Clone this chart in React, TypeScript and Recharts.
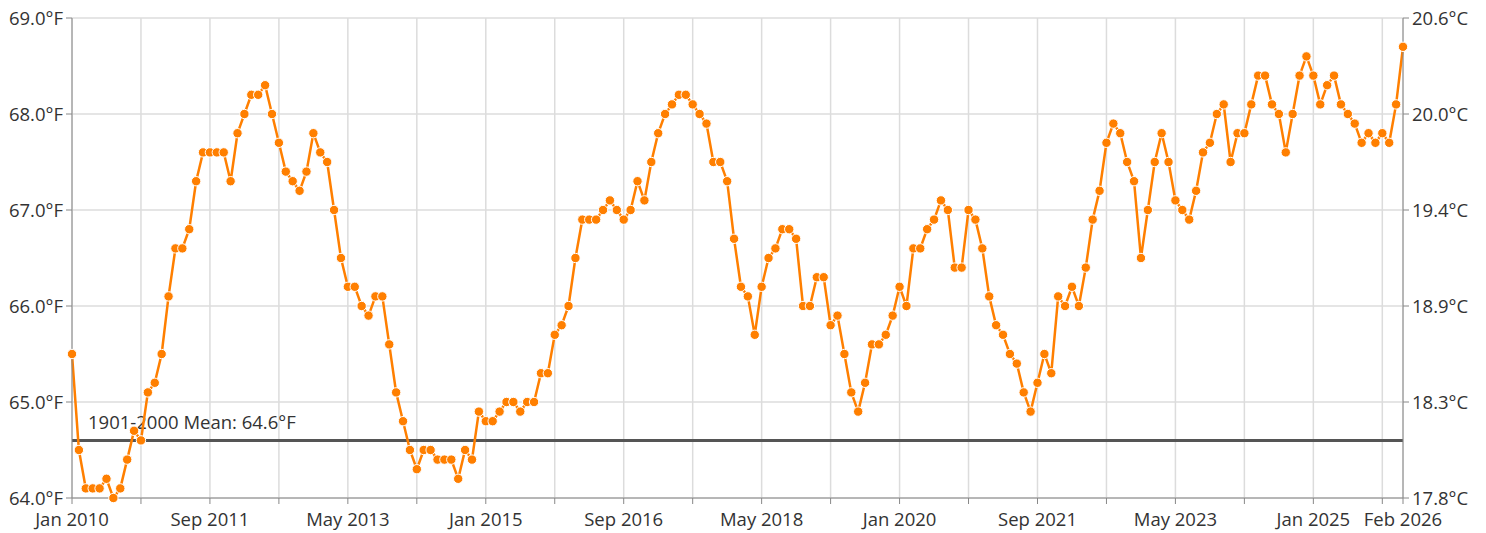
import React from 'react';
import { LineChart, Line, XAxis, YAxis, CartesianGrid, ReferenceLine } from 'recharts';

// monthly temperature (°F), Jan 2010 .. Feb 2026
const monthlyTempF = [
  65.5, 64.5, 64.1, 64.1, 64.1, 64.2, 64.0, 64.1, 64.4, 64.7, 64.6, 65.1,
  65.2, 65.5, 66.1, 66.6, 66.6, 66.8, 67.3, 67.6, 67.6, 67.6, 67.6, 67.3,
  67.8, 68.0, 68.2, 68.2, 68.3, 68.0, 67.7, 67.4, 67.3, 67.2, 67.4, 67.8,
  67.6, 67.5, 67.0, 66.5, 66.2, 66.2, 66.0, 65.9, 66.1, 66.1, 65.6, 65.1,
  64.8, 64.5, 64.3, 64.5, 64.5, 64.4, 64.4, 64.4, 64.2, 64.5, 64.4, 64.9,
  64.8, 64.8, 64.9, 65.0, 65.0, 64.9, 65.0, 65.0, 65.3, 65.3, 65.7, 65.8,
  66.0, 66.5, 66.9, 66.9, 66.9, 67.0, 67.1, 67.0, 66.9, 67.0, 67.3, 67.1,
  67.5, 67.8, 68.0, 68.1, 68.2, 68.2, 68.1, 68.0, 67.9, 67.5, 67.5, 67.3,
  66.7, 66.2, 66.1, 65.7, 66.2, 66.5, 66.6, 66.8, 66.8, 66.7, 66.0, 66.0,
  66.3, 66.3, 65.8, 65.9, 65.5, 65.1, 64.9, 65.2, 65.6, 65.6, 65.7, 65.9,
  66.2, 66.0, 66.6, 66.6, 66.8, 66.9, 67.1, 67.0, 66.4, 66.4, 67.0, 66.9,
  66.6, 66.1, 65.8, 65.7, 65.5, 65.4, 65.1, 64.9, 65.2, 65.5, 65.3, 66.1,
  66.0, 66.2, 66.0, 66.4, 66.9, 67.2, 67.7, 67.9, 67.8, 67.5, 67.3, 66.5,
  67.0, 67.5, 67.8, 67.5, 67.1, 67.0, 66.9, 67.2, 67.6, 67.7, 68.0, 68.1,
  67.5, 67.8, 67.8, 68.1, 68.4, 68.4, 68.1, 68.0, 67.6, 68.0, 68.4, 68.6,
  68.4, 68.1, 68.3, 68.4, 68.1, 68.0, 67.9, 67.7, 67.8, 67.7, 67.8, 67.7,
  68.1, 68.7,
];

// x ticks (month index from Jan 2010); only some carry a label
const xTickMonths = [0, 10, 20, 30, 40, 50, 60, 70, 80, 90, 100, 110, 120, 130, 140, 150, 160, 170, 180, 190, 193];
const labeledMonths = [0, 20, 40, 60, 80, 100, 120, 140, 160, 180, 193];
const labelNames = ['Jan 2010', 'Sep 2011', 'May 2013', 'Jan 2015', 'Sep 2016', 'May 2018', 'Jan 2020', 'Sep 2021', 'May 2023', 'Jan 2025', 'Feb 2026'];

const yTicksF = [64, 65, 66, 67, 68, 69];
const meanF = 64.6;
const meanLabel = '1901-2000 Mean: 64.6°F';

const data = monthlyTempF.map((v, i) => ({ i, v }));

const ORANGE = '#ff7f00';
const TEXT = '#333';
const tickStyle = { fill: TEXT, fontSize: 18.5, fontFamily: 'Open Sans' };

const App = () => {
  return (
    <div style={{ position: 'absolute', left: 0, top: 0 }}>
      <LineChart
        width={1486}
        height={533}
        data={data}
        margin={{ top: 18, right: 0, bottom: 5, left: 8 }}
        style={{ fontFamily: 'Open Sans' }}
      >
        <CartesianGrid stroke="#dcdcdc" strokeWidth={1.5} yAxisId="f" />
        <XAxis
          dataKey="i"
          type="number"
          domain={[0, 193]}
          ticks={xTickMonths}
          interval={0}
          height={30}
          tickSize={6}
          tickMargin={9}
          stroke="#888"
          tick={tickStyle}
          tickFormatter={(m: number) => {
            const k = labeledMonths.indexOf(m);
            return k >= 0 ? labelNames[k] : '';
          }}
        />
        <YAxis
          yAxisId="f"
          domain={[64, 69]}
          ticks={yTicksF}
          width={64}
          tickSize={6}
          tickMargin={3}
          stroke="#888"
          tick={tickStyle}
          tickFormatter={(f: number) => `${f.toFixed(1)}°F`}
        />
        <YAxis
          yAxisId="c"
          orientation="right"
          domain={[64, 69]}
          ticks={yTicksF}
          width={83}
          tickSize={6}
          tickMargin={3}
          stroke="#888"
          tick={tickStyle}
          tickFormatter={(f: number) => `${((f - 32) * 5 / 9).toFixed(1)}°C`}
        />
        <ReferenceLine
          yAxisId="f"
          y={meanF}
          stroke="#555"
          strokeWidth={3}
          label={(props: any) => {
            const vb = props.viewBox;
            return (
              <text x={vb.x + 16} y={vb.y - 11} fill={TEXT} fontSize={18.5} fontFamily="Open Sans">
                {meanLabel}
              </text>
            );
          }}
        />
        {/* invisible copy so the Celsius axis gets drawn */}
        <Line
          yAxisId="c"
          dataKey="v"
          stroke="none"
          dot={false}
          activeDot={false}
          legendType="none"
          isAnimationActive={false}
        />
        <Line
          yAxisId="f"
          dataKey="v"
          stroke={ORANGE}
          strokeWidth={2.5}
          dot={{ r: 4.7, fill: ORANGE, stroke: '#fff', strokeWidth: 1 }}
          isAnimationActive={false}
        />
      </LineChart>
    </div>
  );
};

export default App;
